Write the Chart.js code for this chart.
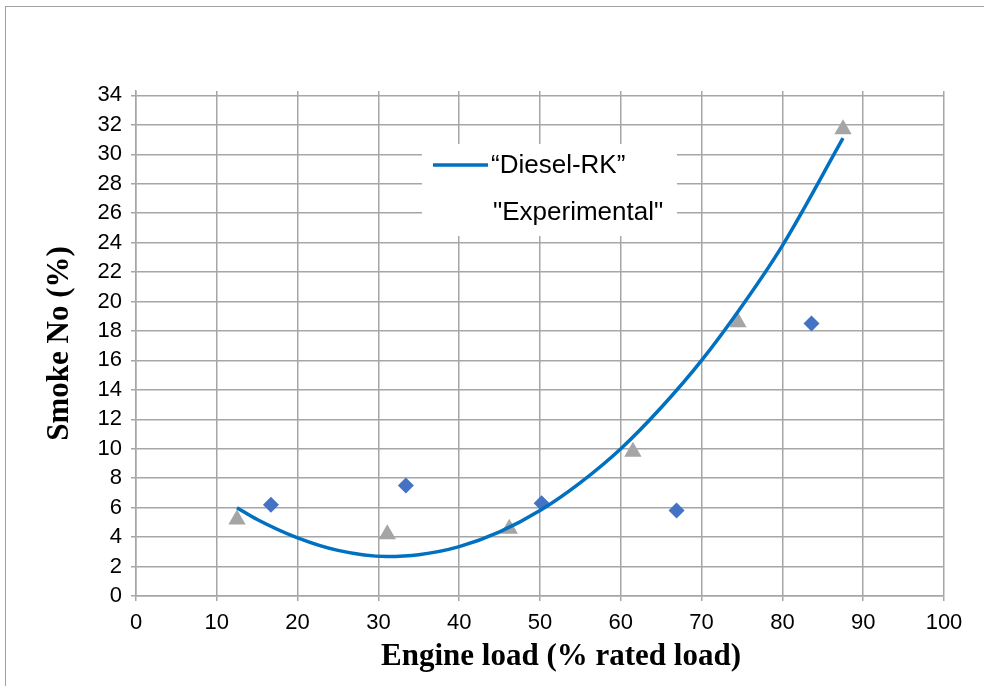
<!DOCTYPE html>
<html>
<head>
<meta charset="utf-8">
<script src="https://cdn.jsdelivr.net/npm/chart.js@4.4.1/dist/chart.umd.min.js"></script>
<style>
  html, body { margin: 0; padding: 0; background: #fff; }
  #smoke { display: block; }
</style>
</head>
<body>
<canvas id="smoke" width="984" height="686"></canvas>
<script>
// Diesel-RK prediction (smooth curve)
const loadRK  = [12.5, 15, 20, 25, 31, 35, 40, 45, 50, 55, 60, 65, 70, 75, 80, 87.5];
const smokeRK = [6.0, 5.2, 3.95, 3.1, 2.68, 2.8, 3.35, 4.35, 5.8, 7.7, 10.0, 12.8, 16.0, 19.7, 23.8, 31.1];

// experimental points (triangles)
const loadExp  = [12.5, 31.1, 46.2, 61.5, 74.5, 87.5];
const smokeExp = [5.2, 4.2, 4.56, 9.8, 18.6, 31.7];

// second point set (diamonds, not in the legend)
const loadDia  = [16.7, 33.4, 50.2, 66.9, 83.6];
const smokeDia = [6.2, 7.5, 6.3, 5.8, 18.5];

const xTicks = { min: 0, max: 100, step: 10 };
const yTicks = { min: 0, max: 34, step: 2 };

const xTitle = "Engine load (% rated load)";
const yTitle = "Smoke No (%)";

function pts(xs, ys) {
    return xs.map(function(x, i) { return { x: x, y: ys[i] }; });
}

const gridGray = "#a6a6a6";

// outer frame + white background
const framePlugin = {
    id: "frame",
    beforeDraw: function(chart) {
        let ctx = chart.ctx;
        ctx.save();
        ctx.fillStyle = "#fff";
        ctx.fillRect(0, 0, chart.width, chart.height);
        ctx.strokeStyle = "#a0a0a0";
        ctx.lineWidth = 1;
        ctx.strokeRect(5.5, 6.5, chart.width + 20, chart.height + 20);
        ctx.restore();
    }
};

// legend box sitting inside the plot; only the line gets a swatch
const boxLegend = {
    id: "boxLegend",
    afterDatasetsDraw: function(chart) {
        let ctx = chart.ctx;
        let ds = chart.data.datasets;
        ctx.save();
        ctx.fillStyle = "#fff";
        ctx.fillRect(422, 144, 255, 92);

        ctx.strokeStyle = ds[0].borderColor;
        ctx.lineWidth = 3.5;
        ctx.beginPath();
        ctx.moveTo(433, 165);
        ctx.lineTo(488, 165);
        ctx.stroke();

        ctx.fillStyle = "#000";
        ctx.font = "26px 'Liberation Sans', Arial, sans-serif";
        ctx.textBaseline = "alphabetic";
        ctx.textAlign = "left";
        ctx.fillText(ds[0].label, 491, 173);
        ctx.fillText(ds[1].label, 493, 220);
        ctx.restore();
    }
};

// x axis title, drawn a bit right of the plot centre
const xTitlePlugin = {
    id: "xTitle",
    afterDraw: function(chart) {
        let ctx = chart.ctx;
        ctx.save();
        ctx.fillStyle = "#000";
        ctx.font = "bold 31px 'Liberation Serif', 'Times New Roman', serif";
        ctx.textAlign = "center";
        ctx.textBaseline = "alphabetic";
        ctx.fillText(xTitle, 561, 665);
        ctx.restore();
    }
};

const tickFont = { family: "'Liberation Sans', Arial, sans-serif", size: 22 };

new Chart(document.getElementById("smoke"), {
    type: "scatter",
    data: {
        datasets: [
            {
                label: "\u201CDiesel-RK\u201D",
                data: pts(loadRK, smokeRK),
                showLine: true,
                borderColor: "#0070c0",
                borderWidth: 3.5,
                pointRadius: 0,
                cubicInterpolationMode: "monotone",
                fill: false
            },
            {
                label: "\"Experimental\"",
                data: pts(loadExp, smokeExp),
                pointStyle: "triangle",
                pointRadius: 10,
                backgroundColor: "#a5a5a5",
                borderColor: "#a5a5a5",
                borderWidth: 0
            },
            {
                label: "",
                data: pts(loadDia, smokeDia),
                pointStyle: "rectRot",
                pointRadius: 8,
                backgroundColor: "#4472c4",
                borderColor: "#4472c4",
                borderWidth: 0
            }
        ]
    },
    options: {
        responsive: false,
        animation: false,
        layout: { padding: { top: 91, right: 40, left: 0, bottom: 0 } },
        plugins: {
            legend: { display: false },
            tooltip: { enabled: false }
        },
        scales: {
            x: {
                type: "linear",
                min: xTicks.min,
                max: xTicks.max,
                ticks: { stepSize: xTicks.step, font: tickFont, color: "#000", padding: 9, maxRotation: 0 },
                grid: { color: gridGray, lineWidth: 1.5, tickLength: 5 },
                border: { color: gridGray, width: 1.5 },
                afterFit: function(s) { s.height = 90; }
            },
            y: {
                type: "linear",
                min: yTicks.min,
                // a little headroom so the vertical grid pokes above the top line
                max: yTicks.max + 0.3,
                bounds: "data",
                ticks: { stepSize: yTicks.step, includeBounds: false, font: tickFont, color: "#000", padding: 9 },
                grid: { color: gridGray, lineWidth: 1.5, tickLength: 5 },
                border: { color: gridGray, width: 1.5 },
                title: {
                    display: true,
                    text: yTitle,
                    color: "#000",
                    font: { family: "'Liberation Serif', 'Times New Roman', serif", size: 31, weight: "bold" },
                    padding: { top: 41, bottom: 0 }
                },
                afterFit: function(s) { s.width = 136; }
            }
        }
    },
    plugins: [framePlugin, boxLegend, xTitlePlugin]
});
</script>
</body>
</html>
